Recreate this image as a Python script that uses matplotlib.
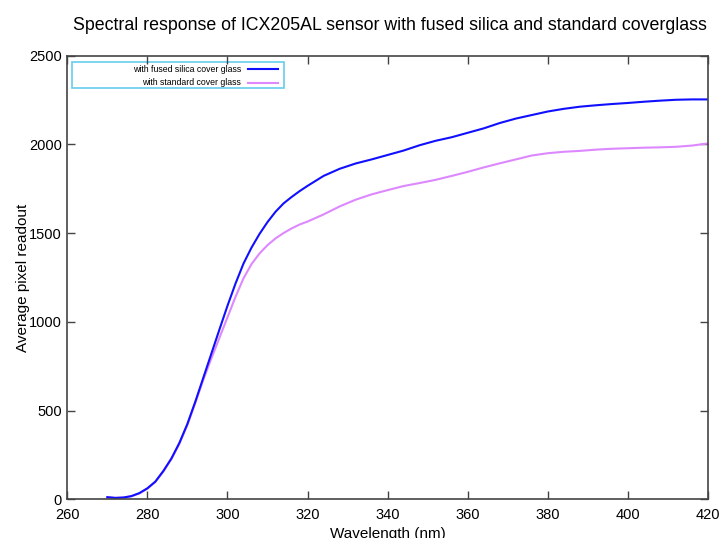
import numpy as np
import matplotlib
matplotlib.use('Agg')
import matplotlib.pyplot as plt
from matplotlib.patches import Rectangle

plt.rcParams['font.family'] = ['Liberation Sans', 'DejaVu Sans']

# wavelength (nm)
wavelength = [270, 272, 274, 276, 278, 280, 282, 284, 286, 288, 290, 292, 294, 296, 298,
              300, 302, 304, 306, 308, 310, 312, 314, 316, 318, 320, 324, 328, 332, 336,
              340, 344, 348, 352, 356, 360, 364, 368, 372, 376, 380, 384, 388, 392, 396,
              400, 404, 408, 412, 416, 420]

fused_silica = [12, 8, 10, 18, 35, 62, 100, 160, 230, 318, 425, 552, 687, 822, 957,
                1090, 1215, 1328, 1418, 1495, 1562, 1620, 1667, 1703, 1736, 1766, 1822, 1862, 1892, 1915,
                1940, 1965, 1995, 2020, 2040, 2065, 2090, 2120, 2145, 2165, 2185, 2200, 2212, 2220, 2227,
                2233, 2240, 2246, 2251, 2253, 2253]

standard = [12, 8, 10, 17, 33, 60, 98, 157, 227, 313, 420, 545, 675, 795, 910,
            1025, 1140, 1245, 1325, 1385, 1432, 1470, 1500, 1526, 1548, 1565, 1605, 1650, 1688, 1718,
            1742, 1765, 1782, 1800, 1822, 1845, 1870, 1893, 1915, 1937, 1950, 1958, 1963, 1970, 1975,
            1978, 1981, 1983, 1986, 1993, 2005]

labels = ['with fused silica cover glass', 'with standard cover glass']
colors = ['#1010ff', '#dd88ff']

fig = plt.figure(figsize=(7.21, 5.38), dpi=100)
ax = fig.add_axes([0.0933, 0.0719, 0.8887, 0.8248])

ax.plot(wavelength, standard, color=colors[1], lw=1.5)
ax.plot(wavelength, fused_silica, color=colors[0], lw=1.5)

ax.set_xlim(260, 420)
ax.set_ylim(0, 2500)
ax.set_xticks(np.arange(260, 421, 20))
ax.set_yticks(np.arange(0, 2501, 500))
ax.tick_params(direction='in', length=6, width=1, color='#444444',
               top=True, right=True, labelsize=10.5)
ax.tick_params(axis='x', pad=6)
ax.tick_params(axis='y', pad=4)
for s in ax.spines.values():
    s.set_color('#444444')
    s.set_linewidth(1.2)

ax.set_xlabel('Wavelength (nm)', fontsize=11, labelpad=4)
ax.set_ylabel('Average pixel readout', fontsize=11, labelpad=-1)
fig.text(0.541, 0.953, 'Spectral response of ICX205AL sensor with fused silica and standard coverglass',
         ha='center', va='center', fontsize=12.8)

# legend, gnuplot style: text right-aligned, sample after it
ax.add_patch(Rectangle((0.0073, 0.927), 0.331, 0.0586, transform=ax.transAxes,
                       fill=False, edgecolor='#66ccee', lw=1.2))
for i, (lab, c) in enumerate(zip(labels, colors)):
    yy = 0.969 - i * 0.0307
    ax.text(0.2715, yy, lab, transform=ax.transAxes, ha='right', va='center', fontsize=6.3)
    ax.plot([0.2825, 0.329], [yy, yy], transform=ax.transAxes, color=c, lw=1.5)

fig.savefig('out.png', dpi=100)
